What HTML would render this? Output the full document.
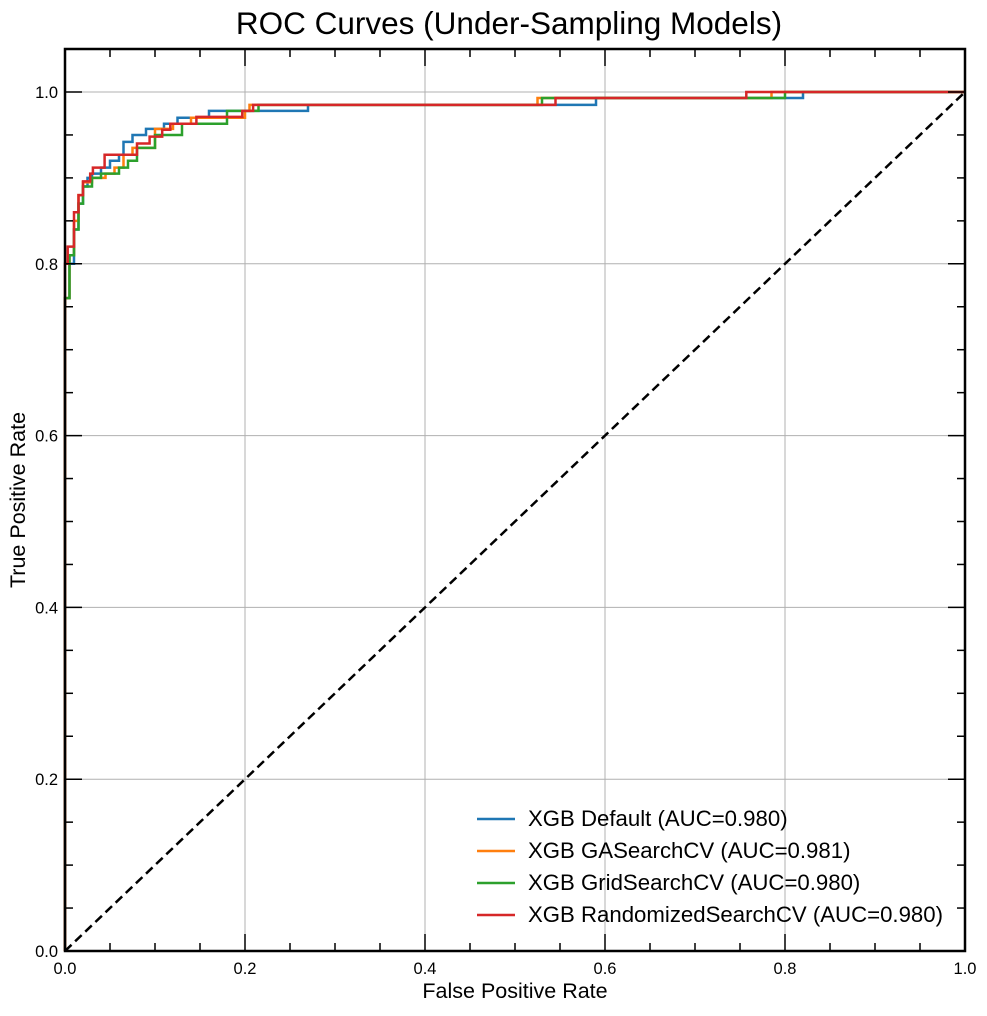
<!DOCTYPE html>
<html><head><meta charset="utf-8"><style>
body{margin:0;background:#fff;}
svg text{font-family:"Liberation Sans",sans-serif;}
</style></head><body>
<svg id="chart" width="987" height="1011" xmlns="http://www.w3.org/2000/svg">
<text x="509" y="34" font-size="31.5" text-anchor="middle">ROC Curves (Under-Sampling Models)</text>
<g id="grid"></g>
<g id="series"></g>
<g id="ticks"></g>
<rect x="65" y="49" width="900" height="902" fill="none" stroke="#000" stroke-width="2.5"/>
<text x="515" y="998" font-size="21.5" text-anchor="middle">False Positive Rate</text>
<text x="25" y="500" font-size="21.5" text-anchor="middle" transform="rotate(-90 25 500)">True Positive Rate</text>
<g id="legend"></g>
</svg>
<script>
const xTicks=[0,0.2,0.4,0.6,0.8,1.0];
const yTicks=[0,0.2,0.4,0.6,0.8,1.0];
const seriesNames=["XGB Default (AUC=0.980)","XGB GASearchCV (AUC=0.981)","XGB GridSearchCV (AUC=0.980)","XGB RandomizedSearchCV (AUC=0.980)"];
const seriesColors=["#1f77b4","#ff7f0e","#2ca02c","#d62728"];
const fprBlue=[0,0,0.005,0.01,0.015,0.02,0.025,0.03,0.04,0.05,0.06,0.065,0.075,0.09,0.11,0.125,0.16,0.27,0.59,0.82,1];
const tprBlue=[0,0.76,0.80,0.84,0.87,0.89,0.90,0.905,0.912,0.92,0.927,0.942,0.95,0.957,0.963,0.97,0.978,0.985,0.993,1.0,1.0];
const fprOrange=[0,0,0.005,0.01,0.015,0.02,0.03,0.045,0.055,0.065,0.075,0.1,0.12,0.14,0.2,0.205,0.525,0.785,1];
const tprOrange=[0,0.76,0.81,0.85,0.88,0.895,0.9,0.905,0.912,0.927,0.935,0.957,0.963,0.97,0.978,0.985,0.993,1.0,1.0];
const fprGreen=[0,0,0.005,0.01,0.015,0.02,0.03,0.04,0.06,0.07,0.08,0.1,0.13,0.18,0.215,0.53,0.8,1];
const tprGreen=[0,0.76,0.81,0.84,0.87,0.89,0.9,0.905,0.912,0.92,0.935,0.95,0.963,0.978,0.985,0.993,1.0,1.0];
const fprRed=[0,0,0,0.003,0.01,0.015,0.02,0.028,0.031,0.044,0.08,0.094,0.108,0.117,0.146,0.197,0.209,0.545,0.757,1];
const tprRed=[0,0.75,0.80,0.82,0.86,0.88,0.896,0.905,0.912,0.927,0.94,0.948,0.956,0.963,0.971,0.978,0.985,0.993,1.0,1.0];
const fprs=[fprBlue,fprOrange,fprGreen,fprRed];
const tprs=[tprBlue,tprOrange,tprGreen,tprRed];
const sx=v=>65+900*v;
const sy=v=>951-859*v;
const NS="http://www.w3.org/2000/svg";
function mk(tag,attrs,parent){const e=document.createElementNS(NS,tag);for(const k in attrs)e.setAttribute(k,attrs[k]);parent.appendChild(e);return e;}
const grid=document.getElementById('grid'),ticks=document.getElementById('ticks'),series=document.getElementById('series'),legend=document.getElementById('legend');
xTicks.forEach(t=>{
 const g=mk('line',{x1:sx(t),x2:sx(t),y1:49,y2:951,stroke:'#b0b0b0','stroke-width':1},grid);
 
 
 const lb=mk('text',{x:sx(t),y:974,'font-size':16.5,'text-anchor':'middle'},ticks);lb.textContent=t.toFixed(1);
 
 
});
yTicks.forEach(t=>{
 const g=mk('line',{x1:65,x2:965,y1:sy(t),y2:sy(t),stroke:'#b0b0b0','stroke-width':1},grid);
 
 
 const lb=mk('text',{x:58,y:sy(t)+6,'font-size':16.5,'text-anchor':'end'},ticks);lb.textContent=t.toFixed(1);
 
 
});
for(let i=0;i<=20;i++){const v=i*0.05;const L=(i%4===0)?17:8;
 mk('line',{x1:sx(v),x2:sx(v),y1:951,y2:951-L,stroke:'#000','stroke-width':1.5},ticks);
 mk('line',{x1:sx(v),x2:sx(v),y1:49,y2:49+L,stroke:'#000','stroke-width':1.5},ticks);
}
for(let i=0;i<=21;i++){const v=i*0.05;const L=(i%4===0)?17:8;
 mk('line',{x1:65,x2:65+L,y1:sy(v),y2:sy(v),stroke:'#000','stroke-width':1.5},ticks);
 mk('line',{x1:965,x2:965-L,y1:sy(v),y2:sy(v),stroke:'#000','stroke-width':1.5},ticks);
}
fprs.forEach((f,s)=>{
 const t=tprs[s];let d='M'+sx(f[0])+','+sy(t[0]);
 for(let i=1;i<f.length;i++){d+=' L'+sx(f[i])+','+sy(t[i-1])+' L'+sx(f[i])+','+sy(t[i]);}
 const p=mk('path',{d:d,fill:'none',stroke:seriesColors[s],'stroke-width':2.5},series);
 
 
});
const diag=mk('line',{x1:sx(0),y1:sy(0),x2:sx(1),y2:sy(1),stroke:'#000','stroke-width':2.5,'stroke-dasharray':'9,5'},series);


seriesNames.forEach((n,i)=>{
 const y=819+32*i;
 const l=mk('line',{x1:477,x2:515,y1:y,y2:y,stroke:seriesColors[i],'stroke-width':2.5},legend);
 
 
 const tx=mk('text',{x:528,y:y+7,'font-size':22.2},legend);tx.textContent=n;
 
 
});
</script>
</body></html>
